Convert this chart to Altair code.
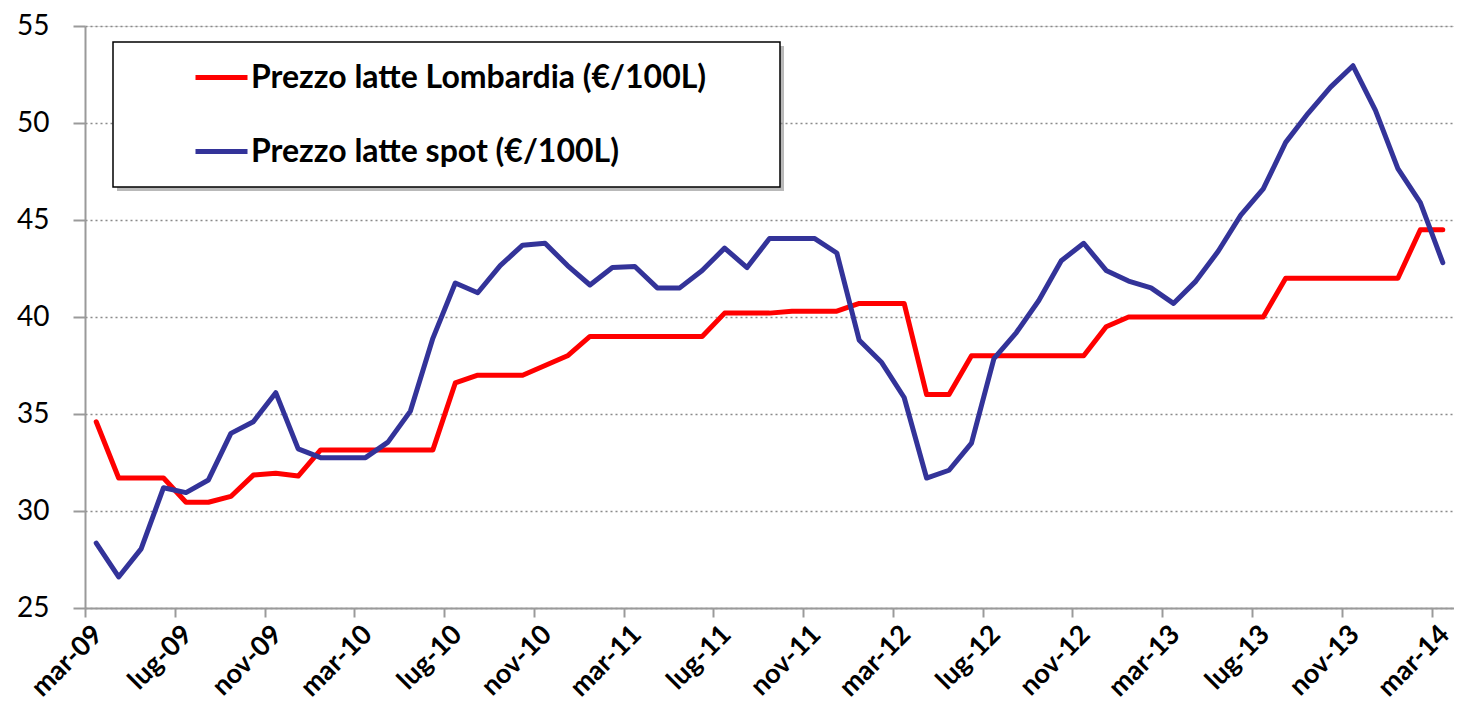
import altair as alt
import pandas as pd

# ---- data ----
month_names = ["gen", "feb", "mar", "apr", "mag", "giu", "lug", "ago", "set", "ott", "nov", "dic"]
months = [f"{month_names[(2 + k) % 12]}-{9 + (2 + k) // 12:02d}" for k in range(61)]  # mar-09 .. mar-14

tick_labels = ["mar-09", "lug-09", "nov-09", "mar-10", "lug-10", "nov-10", "mar-11", "lug-11",
               "nov-11", "mar-12", "lug-12", "nov-12", "mar-13", "lug-13", "nov-13", "mar-14"]

lombardia = [34.6, 31.7, 31.7, 31.7, 30.45, 30.45, 30.75, 31.85, 31.95, 31.8,
             33.15, 33.15, 33.15, 33.15, 33.15, 33.15, 36.6, 37.0, 37.0, 37.0,
             37.5, 38.0, 39.0, 39.0, 39.0, 39.0, 39.0, 39.0, 40.2, 40.2,
             40.2, 40.3, 40.3, 40.3, 40.7, 40.7, 40.7, 36.0, 36.0, 38.0,
             38.0, 38.0, 38.0, 38.0, 38.0, 39.5, 40.0, 40.0, 40.0, 40.0,
             40.0, 40.0, 40.0, 42.0, 42.0, 42.0, 42.0, 42.0, 42.0, 44.5, 44.5]

spot = [28.35, 26.6, 28.05, 31.2, 30.95, 31.6, 34.0, 34.6, 36.1, 33.2,
        32.75, 32.75, 32.75, 33.55, 35.15, 38.9, 41.75, 41.25, 42.65, 43.7,
        43.8, 42.65, 41.65, 42.55, 42.6, 41.5, 41.5, 42.4, 43.55, 42.55,
        44.05, 44.05, 44.05, 43.3, 38.8, 37.65, 35.85, 31.7, 32.1, 33.5,
        37.85, 39.2, 40.85, 42.9, 43.8, 42.4, 41.85, 41.5, 40.7, 41.85,
        43.4, 45.25, 46.6, 49.0, 50.5, 51.85, 52.95, 50.65, 47.65, 45.9, 42.8]

series_names = ["Prezzo latte Lombardia (€/100L)", "Prezzo latte spot (€/100L)"]
series_colors = ["#FF0000", "#333399"]

rows = []
for name, vals in zip(series_names, [lombardia, spot]):
    for i, v in enumerate(vals):
        rows.append({"idx": i, "mese": months[i], "serie": name, "valore": v})
df = pd.DataFrame(rows)

tick_values = [i - 0.5 for i in range(0, 61, 4)]
label_array = "[" + ",".join(f"'{t}'" for t in tick_labels) + "]"
label_expr = f"{label_array}[round((datum.value + 0.5) / 4)]"

FONT = "Lato"

lines = alt.Chart(df).mark_line(strokeWidth=5, strokeCap="round", strokeJoin="round").encode(
    x=alt.X("idx:Q",
            scale=alt.Scale(domain=[-0.5, 60.5], nice=False, zero=False),
            axis=alt.Axis(values=tick_values, labelExpr=label_expr, title=None, grid=False,
                          labelAngle=315, labelAlign="right", labelBaseline="middle",
                          labelOffset=13, labelPadding=13, tickSize=9,
                          labelFont=FONT, labelFontWeight="bold", labelFontSize=27,
                          labelColor="black", labelOverlap=False, labelFlush=False,
                          domainColor="#9a9a9a", domainWidth=2, tickColor="#9a9a9a", tickWidth=2)),
    y=alt.Y("valore:Q",
            scale=alt.Scale(domain=[25, 55], nice=False, zero=False),
            axis=alt.Axis(values=[25, 30, 35, 40, 45, 50, 55], title=None,
                          grid=True, gridDash=[2, 3], gridColor="#8a8a8a", gridWidth=1.5,
                          tickSize=12, labelPadding=24, labelFont=FONT, labelFontSize=28,
                          labelColor="black", domainColor="#9a9a9a", domainWidth=2,
                          tickColor="#9a9a9a", tickWidth=2)),
    color=alt.Color("serie:N",
                    scale=alt.Scale(domain=series_names, range=series_colors),
                    legend=alt.Legend(orient="none", legendX=108, legendY=23, title=None,
                                      symbolType="stroke", symbolSize=2704, symbolStrokeWidth=5,
                                      labelFont=FONT, labelFontWeight="bold", labelFontSize=32,
                                      labelColor="black", labelOffset=1, rowPadding=29,
                                      labelLimit=800, padding=0)),
    detail="serie:N",
)

box_data = alt.Data(values=[{"k": 1}])
shadow = alt.Chart(box_data).mark_rect(fill="#7f7f7f", opacity=0.55).encode(
    x=alt.value(32), x2=alt.value(699), y=alt.value(20), y2=alt.value(165))
box = alt.Chart(box_data).mark_rect(fill="white", stroke="black", strokeWidth=1.5).encode(
    x=alt.value(28), x2=alt.value(695), y=alt.value(16), y2=alt.value(161))

chart = alt.layer(shadow, box, lines).properties(
    width=1369, height=582,
    autosize=alt.AutoSizeParams(type="none"),
    padding={"left": 77, "top": 18, "right": 0, "bottom": 97},
).configure_view(stroke=None).configure(background="white")

chart.save("out.html", embed_options={"renderer": "svg", "actions": False})
